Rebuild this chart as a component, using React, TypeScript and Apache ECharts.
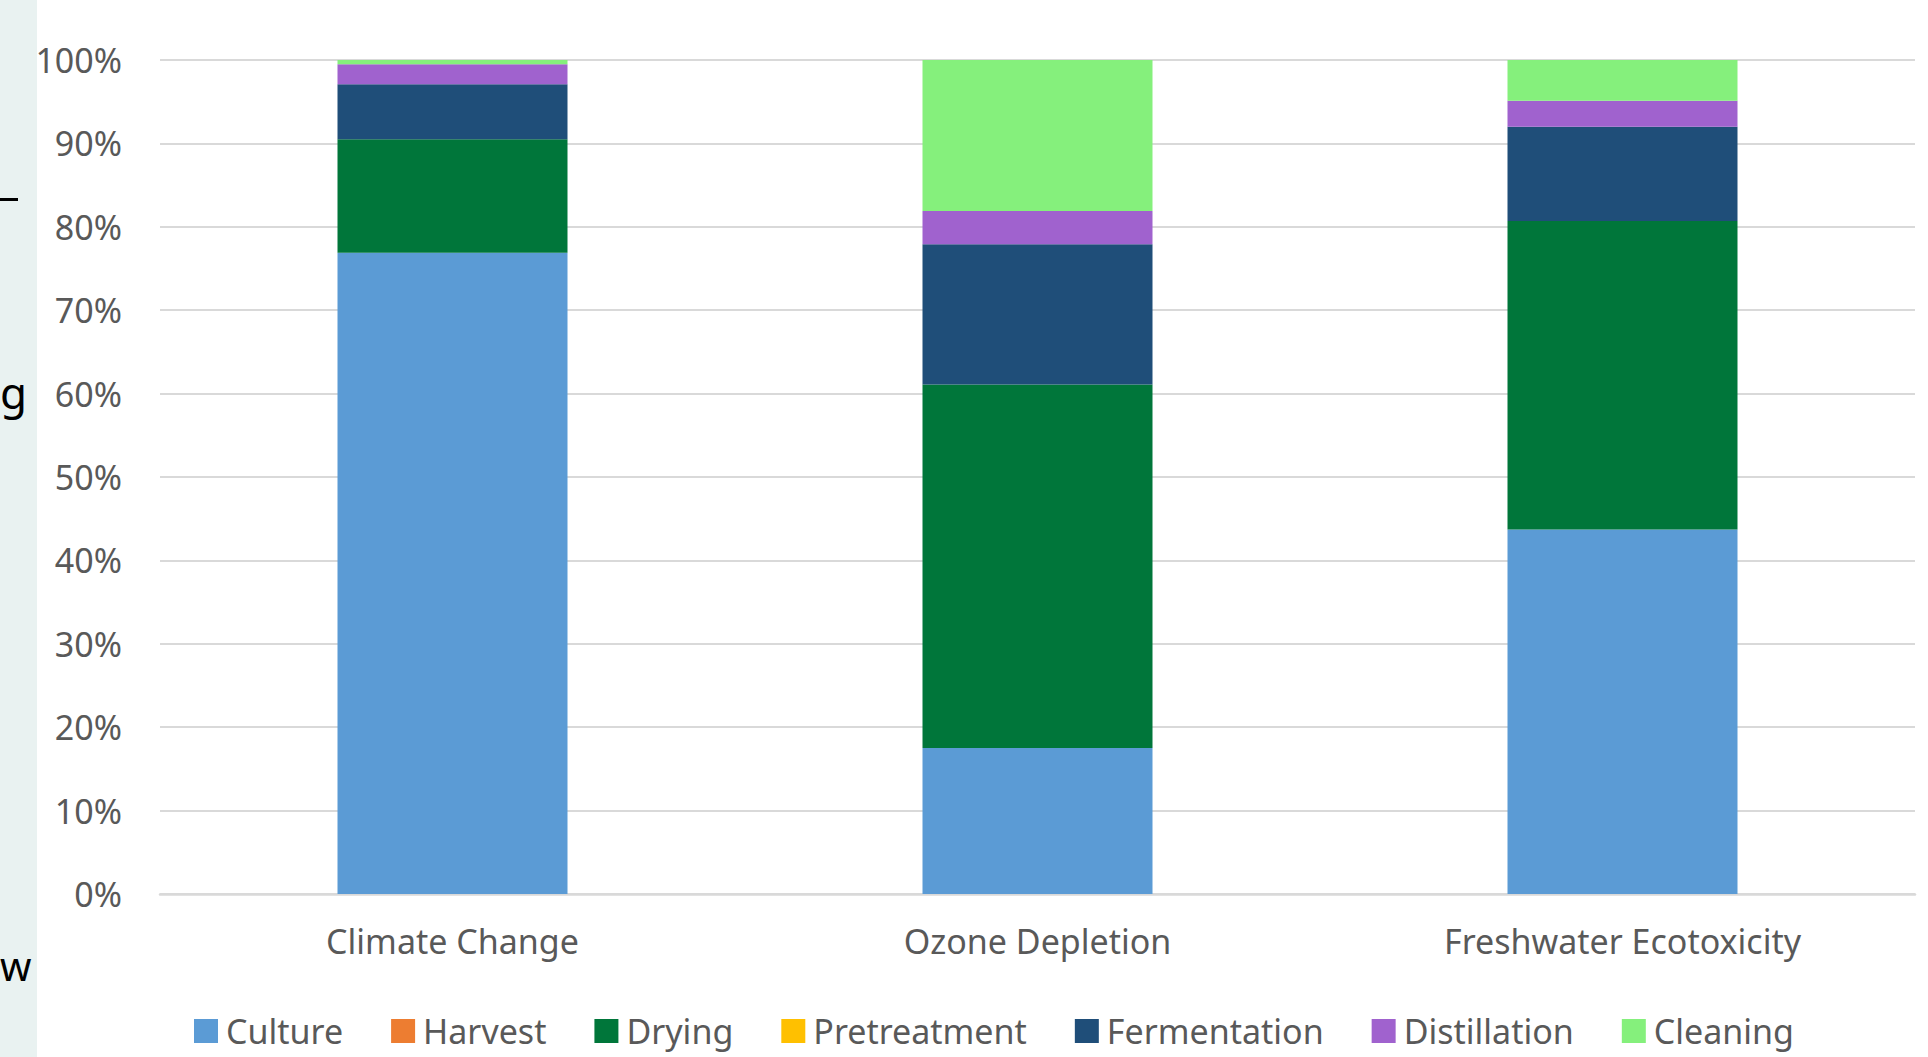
import React, { useEffect, useRef } from "react";
import * as echarts from "echarts";

const categories = ["Climate Change", "Ozone Depletion", "Freshwater Ecotoxicity"];
const seriesNames = ["Culture", "Harvest", "Drying", "Pretreatment", "Fermentation", "Distillation", "Cleaning"];
const culture = [76.9, 17.5, 43.7];
const harvest = [0, 0, 0];
const drying = [13.6, 43.6, 37.0];
const pretreatment = [0, 0, 0];
const fermentation = [6.6, 16.8, 11.3];
const distillation = [2.4, 4.0, 3.1];
const cleaning = [0.5, 18.1, 4.9];
const seriesColors = ["#5B9BD5", "#ED7D31", "#00763A", "#FFC000", "#1F4E79", "#A062CE", "#85F07C"];
const yTicks = { min: 0, max: 100, interval: 10 };

const FONT = "'Noto Sans', 'Open Sans', sans-serif";

export default function App() {
  const ref = useRef<HTMLDivElement>(null);
  useEffect(() => {
    document.body.style.margin = "0";
    document.body.style.overflow = "hidden";
    if (!ref.current) return;
    const chart = echarts.init(ref.current, undefined, { renderer: "svg" });
    const values = [culture, harvest, drying, pretreatment, fermentation, distillation, cleaning];
    chart.setOption({
      animation: false,
      backgroundColor: "#ffffff",
      textStyle: { fontFamily: FONT },
      grid: { left: 160, right: 13, top: 60, bottom: 163, containLabel: false },
      legend: {
        data: seriesNames,
        left: 189,
        top: 1009,
        icon: "rect",
        itemWidth: 24,
        itemHeight: 24,
        itemGap: 48,
        textStyle: { fontSize: 34, color: "#595959", fontFamily: FONT, padding: [0, 0, 0, 3] },
      },
      xAxis: {
        type: "category",
        data: categories,
        axisLine: { lineStyle: { color: "#d9d9d9", width: 2.5 } },
        axisTick: { show: false },
        axisLabel: { fontSize: 34, color: "#595959", margin: 30, fontFamily: FONT },
      },
      yAxis: {
        type: "value",
        min: yTicks.min,
        max: yTicks.max,
        interval: yTicks.interval,
        axisLine: { show: false },
        axisTick: { show: false },
        splitLine: { lineStyle: { color: "#d9d9d9", width: 2 } },
        axisLabel: { fontSize: 34, color: "#595959", margin: 38, formatter: "{value}%", fontFamily: FONT },
      },
      graphic: [
        { type: "rect", left: 0, top: 0, shape: { x: 0, y: 0, width: 37, height: 1057 }, style: { fill: "#E9F2F1" }, z: -1 },
        { type: "rect", shape: { x: 0, y: 198, width: 18, height: 3 }, style: { fill: "#000000" } },
        { type: "text", x: 0, y: 370, style: { text: "g", fontSize: 44, fill: "#000000", fontFamily: FONT } },
        { type: "text", x: 0, y: 945, style: { text: "w", fontSize: 40, fill: "#000000", fontFamily: FONT } },
      ],
      series: seriesNames.map((name, i) => ({
        name,
        type: "bar",
        stack: "total",
        barWidth: 230,
        data: values[i],
        itemStyle: { color: seriesColors[i] },
      })),
    });
    return () => chart.dispose();
  }, []);
  return <div ref={ref} style={{ width: 1928, height: 1057 }} />;
}
